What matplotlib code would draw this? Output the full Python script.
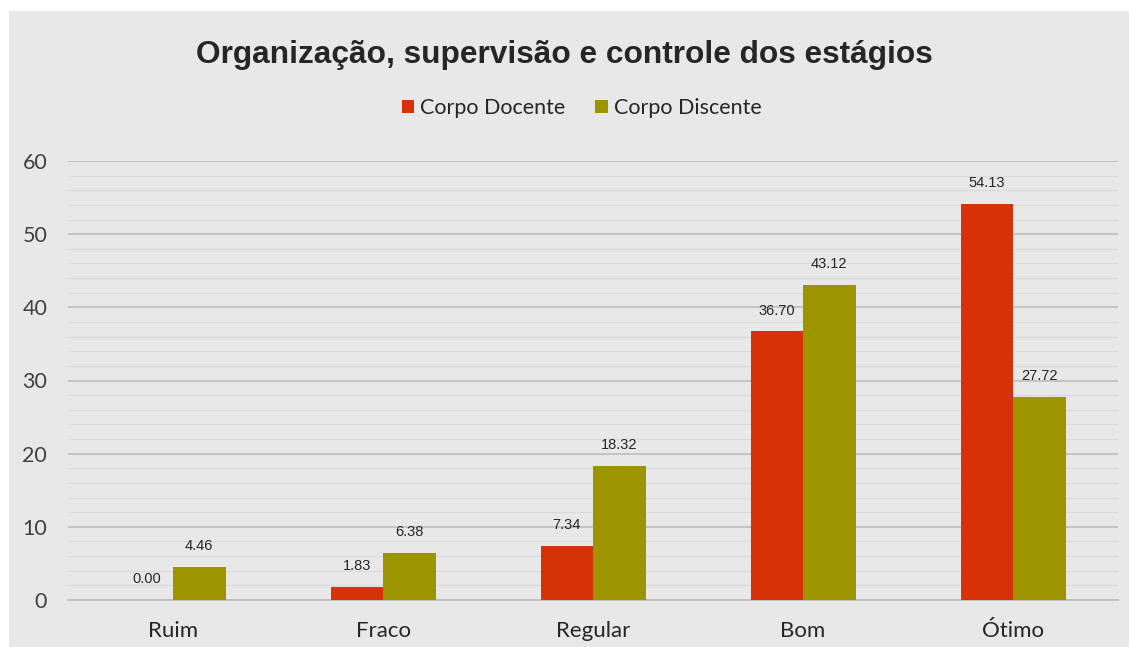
import matplotlib
matplotlib.use("Agg")
import matplotlib.pyplot as plt
from matplotlib.patches import Rectangle
import numpy as np

categories = ["Ruim", "Fraco", "Regular", "Bom", "Ótimo"]
docente = [0.00, 1.83, 7.34, 36.70, 54.13]
discente = [4.46, 6.38, 18.32, 43.12, 27.72]
series_names = ["Corpo Docente", "Corpo Discente"]
yticks = [0, 10, 20, 30, 40, 50, 60]

RED = "#D63208"
OLIVE = "#9C9500"
BG = "#E8E8E8"
label_font = ["Lato", "DejaVu Sans"]
num_font = ["Liberation Sans", "DejaVu Sans"]

fig = plt.figure(figsize=(11.29, 6.47), dpi=100)
fig.patch.set_facecolor("white")
bgrect = Rectangle((9 / 1129, 0), 1 - 9 / 1129, 1 - 11 / 647,
                   transform=fig.transFigure, facecolor=BG,
                   edgecolor="none", zorder=-10)
fig.add_artist(bgrect)

ax = fig.add_axes([68 / 1129, 1 - 600 / 647, (1118 - 68) / 1129, (600 - 161) / 647])
ax.set_zorder(1)
ax.patch.set_alpha(0)

x = np.arange(len(categories))
w = 0.25
b1 = ax.bar(x - w / 2, docente, w, color=RED, label=series_names[0], zorder=3)
b2 = ax.bar(x + w / 2, discente, w, color=OLIVE, label=series_names[1], zorder=3)

for bars, vals in ((b1, docente), (b2, discente)):
    for r, v in zip(bars, vals):
        ax.annotate(f"{v:.2f}", (r.get_x() + r.get_width() / 2, v),
                    xytext=(0, 10), textcoords="offset points",
                    ha="center", va="bottom", fontsize=10.5,
                    family=num_font, color="#262626", zorder=4)

ax.set_xlim(-0.5, len(categories) - 0.5)
ax.set_ylim(0, 60)
ax.set_yticks(yticks)
ax.set_yticks(np.arange(0, 61, 2), minor=True)
ax.grid(axis="y", which="major", color="#BDBDBD", linewidth=1.2, zorder=1)
ax.grid(axis="y", which="minor", color="#DADADA", linewidth=0.9, zorder=1)
ax.set_axisbelow(True)

for s in ["top", "right", "left"]:
    ax.spines[s].set_visible(False)
ax.spines["bottom"].set_color("#BDBDBD")
ax.spines["bottom"].set_linewidth(1.2)

ax.set_xticks(x)
ax.set_xticklabels(categories)
ax.tick_params(axis="both", which="both", length=0)
ax.tick_params(axis="y", pad=15, labelsize=15.5, labelcolor="#404040")
ax.tick_params(axis="x", pad=15, labelsize=16, labelcolor="#262626")
for lab in ax.get_xticklabels() + ax.get_yticklabels():
    lab.set_family(label_font)

fig.text(0.5, 1 - 55 / 647, "Organização, supervisão e controle dos estágios",
         ha="center", va="center", fontsize=22.8, fontweight="bold",
         family=["Liberation Sans", "DejaVu Sans"], color="#262626")

leg = fig.legend(handles=[b1, b2], labels=series_names, loc="center",
                 bbox_to_anchor=(0.515, 1 - 108 / 647), ncol=2, frameon=False,
                 prop={"family": label_font, "size": 15.5},
                 handlelength=0.6, handleheight=0.6, handletextpad=0.25,
                 columnspacing=1.4)
for t in leg.get_texts():
    t.set_color("#262626")

fig.savefig("out.png", dpi=100, facecolor=fig.get_facecolor())
